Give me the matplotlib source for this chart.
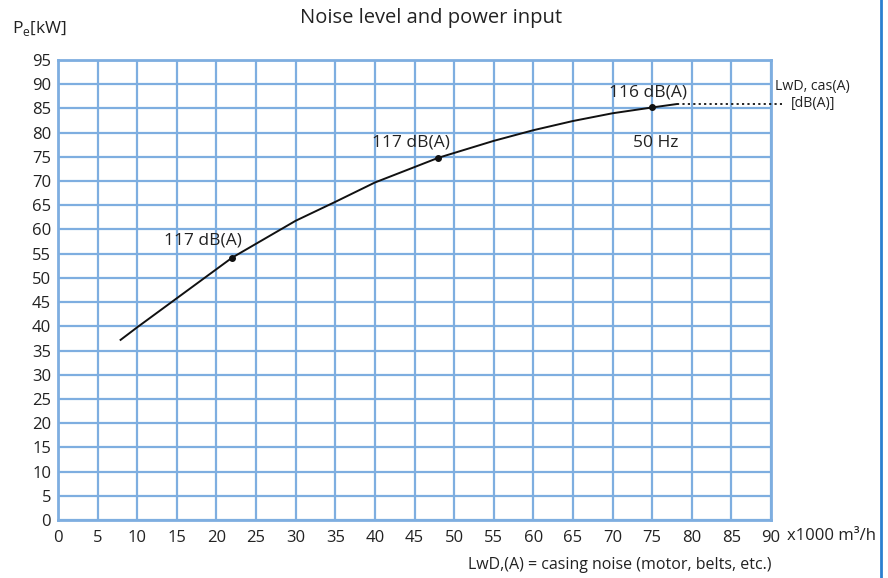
import matplotlib
matplotlib.use("Agg")
import matplotlib.pyplot as plt
from matplotlib.lines import Line2D

plt.rcParams['font.family'] = ['Open Sans', 'DejaVu Sans']

# Data
flow = [7.9, 10, 15, 20, 22, 30, 35, 40, 48, 55, 60, 65, 70, 75, 78.1]
power = [37.2, 39.8, 45.8, 51.8, 54.2, 61.8, 65.7, 69.7, 74.8, 78.3, 80.5, 82.4, 84.0, 85.2, 85.9]
dot_x = [22, 48, 75]
dot_y = [54.2, 74.8, 85.2]
dot_labels = ["117 dB(A)", "117 dB(A)", "116 dB(A)"]
label_pos = [(18.3, 57.8), (44.6, 78.0), (74.5, 88.2)]
dotted_x = [78.1, 91.4]
dotted_y = [85.9, 85.9]
xticks = list(range(0, 95, 5))
yticks = list(range(0, 100, 5))

grid_c = "#7eaee0"
txt_c = "#222222"

fig = plt.figure(figsize=(8.88, 5.78), dpi=100)
ax = fig.add_axes([58/888, 1-520/578, (771-58)/888, (520-60)/578])
ax.set_xlim(0, 90)
ax.set_ylim(0, 95)
ax.set_xticks(xticks)
ax.set_yticks(yticks)
ax.grid(True, color=grid_c, linewidth=1.6)
for s in ax.spines.values():
    s.set_color(grid_c)
    s.set_linewidth(2)
ax.tick_params(length=0, labelsize=12, colors=txt_c, pad=5)
ax.tick_params(axis='x', pad=7)
ax.set_axisbelow(True)

ax.plot(flow, power, color="#111111", linewidth=1.4, zorder=3)
ax.plot(dot_x, dot_y, 'o', color="#111111", markersize=4, zorder=4)
ax.plot(dotted_x, dotted_y, color="#111111", linewidth=1.3, linestyle=(0, (1.2, 1.8)),
        clip_on=False, zorder=3)

for (lx, ly), lab in zip(label_pos, dot_labels):
    ax.text(lx, ly, lab, ha='center', va='center', fontsize=12.5, color=txt_c, zorder=5)
ax.text(75.5, 77.9, "50 Hz", ha='center', va='center', fontsize=12.5, color=txt_c)

fig.text(812/888, 1-86/578, "LwD, cas(A)", ha='center', va='center', fontsize=10.2, color=txt_c)
fig.text(813/888, 1-103/578, "[dB(A)]", ha='center', va='center', fontsize=10.2, color=txt_c)

fig.text(431/888, 1-18/578, "Noise level and power input", ha='center', va='center',
         fontsize=14.5, color=txt_c)
fig.text(12/888, 1-28/578, r"P$_\mathregular{e}$[kW]", ha='left', va='center',
         fontsize=12.5, color=txt_c)
fig.text(787/888, 1-536/578, "x1000 m³/h", ha='left', va='center', fontsize=12, color=txt_c)
fig.text(771/888, 1-565/578, "LwD,(A) = casing noise (motor, belts, etc.)", ha='right',
         va='center', fontsize=11.5, color=txt_c)

fig.add_artist(Line2D([881/888, 881/888], [0, 1], color="#2a80d0", linewidth=2.0,
                      transform=fig.transFigure))

fig.savefig("out.png", dpi=100)
